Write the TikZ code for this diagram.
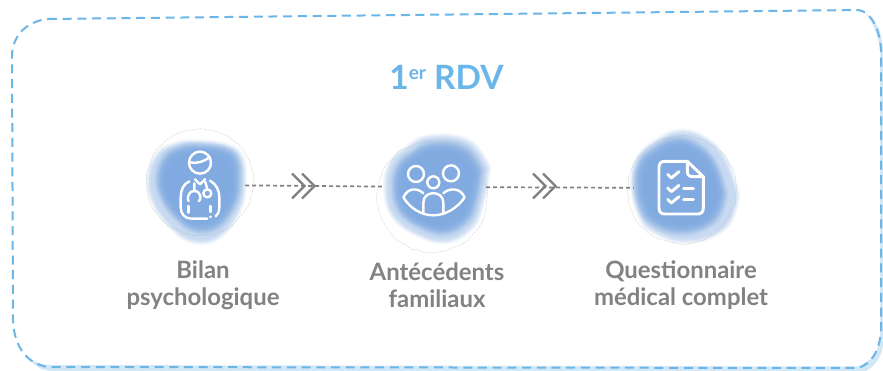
\documentclass[tikz,border=0pt]{standalone}
\usepackage{fontspec}
\setmainfont{Lato}
\usetikzlibrary{decorations.pathmorphing}
\definecolor{framec}{HTML}{6BB6E9}
\definecolor{shadowc}{HTML}{D2E8F7}
\definecolor{blobc}{HTML}{6A9EDF}
\definecolor{txtc}{HTML}{828282}
\definecolor{arrc}{HTML}{808080}
\tikzset{
  framepath/.style={draw=framec,line width=2pt,dash pattern=on 9pt off 5.7pt},
  anchorc/.style={circle,inner sep=0pt,minimum size=#1},
  flow/.style={draw=arrc,line width=1.7pt,dash pattern=on 4pt off 3pt},
  chev/.style={draw=arrc,line width=2.3pt,line join=miter},
  ic/.style={draw=white,line width=2.4pt,line cap=round,line join=round},
  halo/.style={draw=black!30,line width=.5pt,dash pattern=on 1.6pt off 1.1pt,opacity=.6,
    decorate,decoration={random steps,segment length=7pt,amplitude=1pt}},
  lab/.style={text=txtc,font=\fontsize{23.9}{27}\selectfont\bfseries,align=center,anchor=center}
}
\newcommand{\wash}[5]{%
  \foreach \s/\o in {1.04/.05,1.025/.05,1.01/.06,.995/.07,.98/.07,.96/.06,.94/.06}{
    \fill[blobc,opacity=\o,shift={(#1,#2)},scale=\s] plot[smooth cycle,tension=.7] coordinates {#3};
  }
  \foreach \s/\o in {.92/.06,.9/.08,.88/.1,.86/.12,.84/.14,.82/.15,.8/.15,.78/.14,.75/.12,.72/.1,.68/.1}{
    \fill[blobc,opacity=\o,shift={(#1+#4,#2+#5)},scale=\s] plot[smooth cycle,tension=.7] coordinates {#3};
  }}
\begin{document}
\begin{tikzpicture}[x=1pt,y=-1pt]
\useasboundingbox (0,0) rectangle (883,371);
\fill[white] (0,0) rectangle (883,371);
% shadows of the frame
\fill[shadowc] (26,356) .. controls (34,366) and (42,371) .. (52,371) -- (866,371) .. controls (876,366) and (882,355) .. (883,345) -- (883,50) .. controls (882,32) and (876,19) .. (866,14) .. controls (873,22) and (878,35) .. (880,50) -- (880,340) .. controls (878,352) and (870,362) .. (858,366.5) -- (48,365) .. controls (40,364) and (32,361) .. (26,356) -- cycle;
% frame
\draw[framepath] (48,19) -- (858,10) .. controls (870,11) and (880,28) .. (881,50) -- (881,330) .. controls (880,350) and (872,364) .. (858,368) -- (48,367) .. controls (28,364) and (14,348) .. (13,320) -- (12,55) .. controls (13,34) and (28,21) .. (48,19) -- cycle;
% washes
\wash{197}{188}{(0,-47)(30,-43)(45,-31)(48,-5)(43,22)(23,49)(-4,54)(-27,39)(-44,15)(-49,-11)(-39,-35)(-20,-45)}{2}{-3}
\wash{434}{190}{(-4,-54)(33,-50)(53,-27)(54,-13)(49,13)(39,37)(13,52)(-17,45)(-41,27)(-49,0)(-44,-27)(-27,-43)}{1}{-1}
\wash{686}{188}{(-8,-57)(14,-53)(36,-35)(49,-5)(51,15)(37,42)(1,54)(-33,44)(-48,25)(-54,-5)(-48,-31)(-29,-48)}{-5}{-1}
% halos
\draw[halo] (200,182) circle[radius=53];
\draw[halo] (432,197) circle[radius=55];
\draw[halo] (682,190) circle[radius=54];
% anchors
\node[anchorc=90pt] (b1) at (200,185) {};
\node[anchorc=104pt] (b2) at (434,187) {};
\node[anchorc=104pt] (b3) at (686,188) {};
% connectors
\draw[flow] (b1) -- (b2);
\draw[flow] (b2) -- (b3);
\draw[chev] (292,173.5) -- (304.5,186) -- (292,198.5);
\draw[chev] (302,173.5) -- (314.5,186) -- (302,198.5);
\draw[chev] (533,173.5) -- (545.5,186) -- (533,198.5);
\draw[chev] (543,173.5) -- (555.5,186) -- (543,198.5);
% doctor icon
\begin{scope}[shift={(130,120)},scale=1/3]
\draw[ic] (210,128) circle[radius=33];
\draw[ic] (178,127) .. controls (200,132) and (222,125) .. (240,111);
\draw[ic] (178,184) .. controls (160,192) and (152,210) .. (152,232) -- (152,262) .. controls (152,282) and (165,296) .. (185,296) -- (232,296);
\draw[ic] (240,182) .. controls (258,192) and (268,210) .. (268,232) -- (268,262) .. controls (268,276) and (263,284) .. (257,289);
\draw[ic] (195,178) -- (210,193) -- (225,178);
\draw[ic] (193,190) -- (193,213) .. controls (170,214) and (172,243) .. (176,243);
\draw[ic] (193,213) .. controls (216,214) and (214,243) .. (206,243);
\draw[ic] (232,220) circle[radius=12];
\draw[ic] (226,186) -- (232,208);
\draw[ic] (175,258) -- (175,278);
\draw[ic] (242,258) -- (242,276);
\draw[ic] (242,290) -- (242,291);
\end{scope}
% family icon
\begin{scope}[shift={(360,120)},scale=1/3]
\draw[ic] (168,162) circle[radius=24];
\draw[ic] (273,160) circle[radius=24];
\draw[ic] (220,187) circle[radius=18];
\draw[ic] (190,220) .. controls (175,205) and (145,200) .. (130,232) .. controls (150,265) and (185,286) .. (220,286) .. controls (255,286) and (292,265) .. (314,232) .. controls (300,200) and (265,205) .. (250,220);
\draw[ic] (190,282) -- (190,248) .. controls (190,210) and (250,210) .. (250,248) -- (250,282);
\end{scope}
% checklist icon
\begin{scope}[shift={(610,120)},scale=1/3]
\draw[ic,line width=2.9pt] (232,124) -- (165,124) .. controls (153,124) and (147,130) .. (147,142) -- (147,264) .. controls (147,276) and (153,282) .. (165,282) -- (262,282) .. controls (274,282) and (280,276) .. (280,264) -- (280,170) -- cycle;
\draw[ic,line width=2.9pt] (232,124) -- (232,155) .. controls (232,165) and (238,170) .. (248,170) -- (280,170);
\draw[ic,line width=2.9pt] (173,163) -- (184,174) -- (207,155);
\draw[ic,line width=2.9pt] (173,204) -- (184,215) -- (207,196);
\draw[ic,line width=2.9pt] (173,238) -- (184,249) -- (207,230);
\draw[ic,line width=2.9pt] (221,205) -- (250,205);
\draw[ic,line width=2.9pt] (221,238) -- (250,238);
\end{scope}
% texts
\node[text=framec,font=\fontsize{33.5}{36}\selectfont\bfseries,anchor=base,inner sep=0pt] (title) at (446.5,90) {1\raisebox{10pt}{\fontsize{19}{20}\selectfont er} RDV};
\node[lab] (t1) at (203,285.5) {Bilan\\psychologique};
\node[lab] (t2) at (437,285.5) {Antécédents\\familiaux};
\node[lab] (t3) at (681,285.5) {Questionnaire\\médical complet};
\end{tikzpicture}
\end{document}
